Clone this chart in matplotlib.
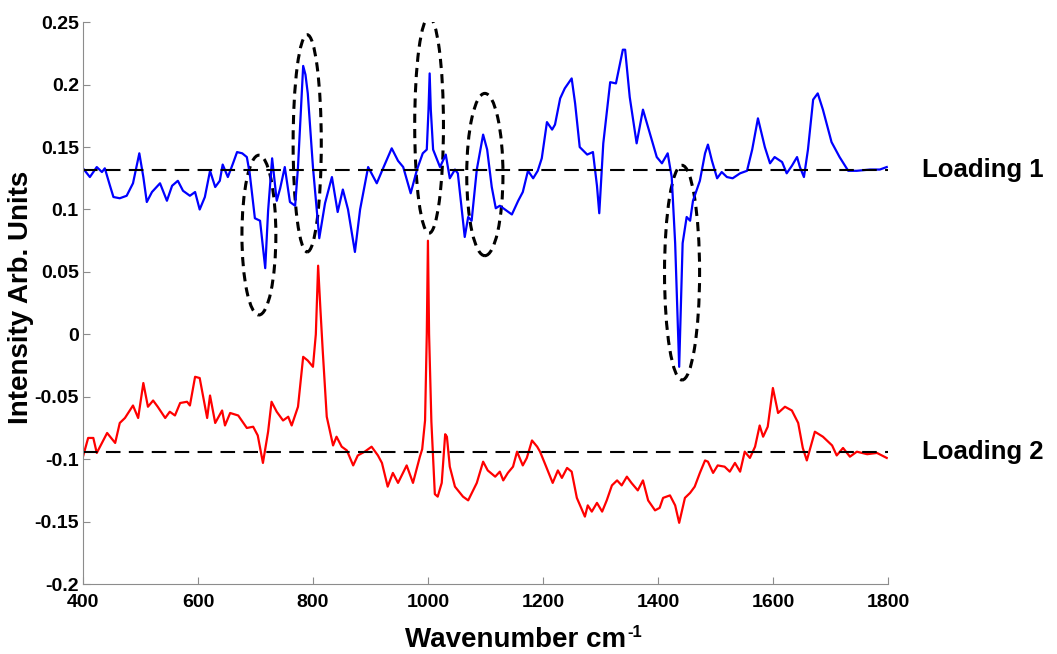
import matplotlib
matplotlib.use("Agg")
import matplotlib.pyplot as plt
from matplotlib.patches import Ellipse

plt.rcParams['font.family'] = ['Liberation Sans', 'DejaVu Sans']
plt.rcParams['font.weight'] = 'bold'
plt.rcParams['axes.unicode_minus'] = False

# Loading 1 (blue)
wn1 = [400, 412, 424, 433, 438, 447, 453, 464, 476, 487, 498, 505, 511, 520, 534, 546, 555, 565,
       574, 586, 595, 603, 612, 621, 630, 638, 643, 652, 661, 668, 677, 685, 690, 699, 708, 717,
       722, 729, 737, 743, 751, 760, 769, 774, 778, 783, 787, 791, 800, 811, 821, 833, 843, 852,
       861, 873, 882, 896, 911, 922, 937, 948, 957, 970, 981, 991, 998, 1001, 1003, 1005, 1009,
       1021, 1031, 1038, 1047, 1052, 1064, 1070, 1076, 1085, 1096, 1103, 1111, 1118, 1125, 1134,
       1146, 1157, 1165, 1174, 1183, 1191, 1198, 1207, 1216, 1221, 1230, 1238, 1250, 1256, 1264,
       1277, 1287, 1294, 1298, 1305, 1317, 1327, 1339, 1343, 1351, 1363, 1374, 1386, 1398, 1407,
       1417, 1424, 1430, 1437, 1443, 1450, 1456, 1461, 1473, 1482, 1487, 1494, 1503, 1511, 1520,
       1530, 1543, 1555, 1564, 1574, 1586, 1595, 1603, 1616, 1624, 1633, 1642, 1647, 1654, 1661,
       1670, 1678, 1687, 1702, 1716, 1731, 1746, 1769, 1786, 1798]
load1 = [0.133, 0.126, 0.134, 0.130, 0.133, 0.119, 0.110, 0.109, 0.111, 0.121, 0.145, 0.126, 0.106,
         0.114, 0.121, 0.107, 0.119, 0.123, 0.115, 0.111, 0.114, 0.100, 0.110, 0.131, 0.118, 0.123,
         0.136, 0.126, 0.137, 0.146, 0.145, 0.142, 0.129, 0.093, 0.091, 0.053, 0.099, 0.141, 0.107,
         0.117, 0.134, 0.106, 0.103, 0.134, 0.170, 0.215, 0.208, 0.193, 0.134, 0.077, 0.105, 0.126,
         0.098, 0.116, 0.100, 0.066, 0.100, 0.134, 0.121, 0.133, 0.149, 0.139, 0.134, 0.113, 0.132,
         0.145, 0.148, 0.180, 0.209, 0.180, 0.148, 0.134, 0.144, 0.125, 0.132, 0.129, 0.078, 0.094,
         0.091, 0.132, 0.160, 0.148, 0.118, 0.101, 0.103, 0.100, 0.096, 0.107, 0.114, 0.131, 0.125,
         0.131, 0.141, 0.170, 0.164, 0.168, 0.189, 0.197, 0.205, 0.185, 0.150, 0.144, 0.146, 0.119,
         0.097, 0.153, 0.202, 0.201, 0.228, 0.228, 0.190, 0.153, 0.180, 0.161, 0.142, 0.137, 0.145,
         0.126, 0.073, -0.026, 0.073, 0.094, 0.091, 0.107, 0.123, 0.145, 0.152, 0.139, 0.125, 0.130,
         0.126, 0.125, 0.129, 0.131, 0.148, 0.173, 0.150, 0.137, 0.142, 0.138, 0.129, 0.135, 0.142,
         0.134, 0.126, 0.148, 0.188, 0.193, 0.180, 0.154, 0.142, 0.131, 0.131, 0.132, 0.132, 0.134]

# Loading 2 (red)
wn2 = [400, 409, 418, 424, 433, 442, 456, 464, 473, 487, 496, 505, 513, 522, 530, 543, 551, 560,
       569, 581, 586, 595, 603, 616, 621, 630, 642, 647, 656, 670, 685, 696, 704, 713, 722, 728,
       737, 748, 757, 763, 774, 783, 791, 800, 805, 809, 813, 817, 824, 835, 841, 850, 859, 870,
       878, 890, 902, 913, 920, 930, 939, 948, 963, 974, 986, 990, 995, 998, 1000, 1002, 1006,
       1012, 1017, 1024, 1030, 1033, 1038, 1047, 1061, 1070, 1085, 1096, 1104, 1117, 1125, 1131,
       1139, 1148, 1155, 1165, 1172, 1181, 1190, 1195, 1203, 1217, 1226, 1233, 1242, 1250, 1259,
       1273, 1278, 1285, 1294, 1303, 1311, 1320, 1329, 1337, 1346, 1354, 1365, 1374, 1383, 1395,
       1403, 1409, 1421, 1430, 1437, 1447, 1456, 1464, 1473, 1482, 1487, 1496, 1504, 1516, 1525,
       1534, 1543, 1551, 1560, 1569, 1577, 1583, 1591, 1600, 1609, 1621, 1633, 1644, 1652, 1659,
       1668, 1673, 1687, 1703, 1711, 1722, 1734, 1746, 1764, 1781, 1798]
load2 = [-0.098, -0.083, -0.083, -0.095, -0.087, -0.079, -0.087, -0.071, -0.067, -0.057, -0.067,
         -0.039, -0.058, -0.053, -0.058, -0.067, -0.062, -0.065, -0.055, -0.054, -0.057, -0.034,
         -0.035, -0.067, -0.049, -0.071, -0.061, -0.073, -0.063, -0.065, -0.075, -0.074, -0.081,
         -0.103, -0.078, -0.054, -0.062, -0.069, -0.066, -0.073, -0.058, -0.018, -0.021, -0.026,
         0.000, 0.055, 0.020, -0.013, -0.066, -0.089, -0.082, -0.090, -0.093, -0.105, -0.097,
         -0.094, -0.090, -0.097, -0.103, -0.122, -0.111, -0.119, -0.105, -0.119, -0.098, -0.092,
         -0.069, 0.000, 0.075, 0.000, -0.070, -0.128, -0.130, -0.119, -0.080, -0.082, -0.106,
         -0.122, -0.130, -0.133, -0.119, -0.102, -0.109, -0.114, -0.110, -0.117, -0.111, -0.106,
         -0.094, -0.105, -0.099, -0.085, -0.090, -0.094, -0.103, -0.119, -0.109, -0.115, -0.107,
         -0.110, -0.131, -0.146, -0.137, -0.142, -0.135, -0.142, -0.133, -0.121, -0.117, -0.121,
         -0.114, -0.119, -0.125, -0.117, -0.133, -0.141, -0.139, -0.131, -0.129, -0.137, -0.151,
         -0.131, -0.127, -0.122, -0.111, -0.101, -0.102, -0.111, -0.105, -0.106, -0.110, -0.103,
         -0.110, -0.094, -0.099, -0.090, -0.073, -0.082, -0.074, -0.043, -0.063, -0.058, -0.061,
         -0.071, -0.091, -0.101, -0.086, -0.078, -0.082, -0.089, -0.097, -0.091, -0.098, -0.094,
         -0.096, -0.095, -0.099]

baseline1 = 0.1315
baseline2 = -0.0943

# highlighted bands: (centre wavenumber, centre intensity, width, height)
bands = [(706, 0.0795, 59, 0.128),
         (790, 0.153, 49, 0.174),
         (1002, 0.1675, 50, 0.173),
         (1099, 0.128, 63, 0.130),
         (1442, 0.0494, 61, 0.172)]

fig = plt.figure(figsize=(10.57, 6.54), dpi=100)
ax = fig.add_axes([0.0785, 0.107, 0.7615, 0.859])

ax.plot(wn1, load1, color='#0000ff', lw=1.6)
ax.plot(wn2, load2, color='#ff0000', lw=1.6)
ax.axhline(baseline1, color='black', lw=1.5, linestyle=(0, (7, 4)))
ax.axhline(baseline2, color='black', lw=1.5, linestyle=(0, (7, 4)))

for cx, cy, w, h in bands:
    ax.add_patch(Ellipse((cx, cy), w, h, fill=False, edgecolor='black', lw=2.2,
                         linestyle=(0, (3, 2))))

ax.set_xlim(400, 1800)
ax.set_ylim(-0.2, 0.25)
ax.set_xticks([400, 600, 800, 1000, 1200, 1400, 1600, 1800])
yt = [-0.2, -0.15, -0.1, -0.05, 0, 0.05, 0.1, 0.15, 0.2, 0.25]
ax.set_yticks(yt)
ax.set_yticklabels(['%g' % v for v in yt])

for s in ['top', 'right']:
    ax.spines[s].set_visible(False)
for s in ['left', 'bottom']:
    ax.spines[s].set_color('#8c8c8c')
ax.tick_params(direction='in', length=5, color='#8c8c8c', labelsize=14)
ax.tick_params(axis='x', pad=7)
ax.tick_params(axis='y', pad=3)
for lab in ax.get_xticklabels() + ax.get_yticklabels():
    lab.set_fontweight('bold')

ax.set_ylabel('Intensity Arb. Units', fontsize=20, fontweight='bold')
ax.yaxis.set_label_coords(-0.061, 0.51)

# x label with a plain hyphen superscript
xl = fig.text(405 / 1057, 7 / 654, 'Wavenumber cm', fontsize=20, fontweight='bold',
              ha='left', va='baseline')
fig.canvas.draw()
bb = xl.get_window_extent()
fig.text((bb.x1 + 1) / 1057, 17 / 654, '-1', fontsize=12, fontweight='bold',
         ha='left', va='baseline')

ax.text(1859, baseline1, 'Loading 1', fontsize=18.5, fontweight='bold', va='center', ha='left',
        clip_on=False)
ax.text(1859, baseline2, 'Loading 2', fontsize=18.5, fontweight='bold', va='center', ha='left',
        clip_on=False)

fig.savefig('out.png', dpi=100)
